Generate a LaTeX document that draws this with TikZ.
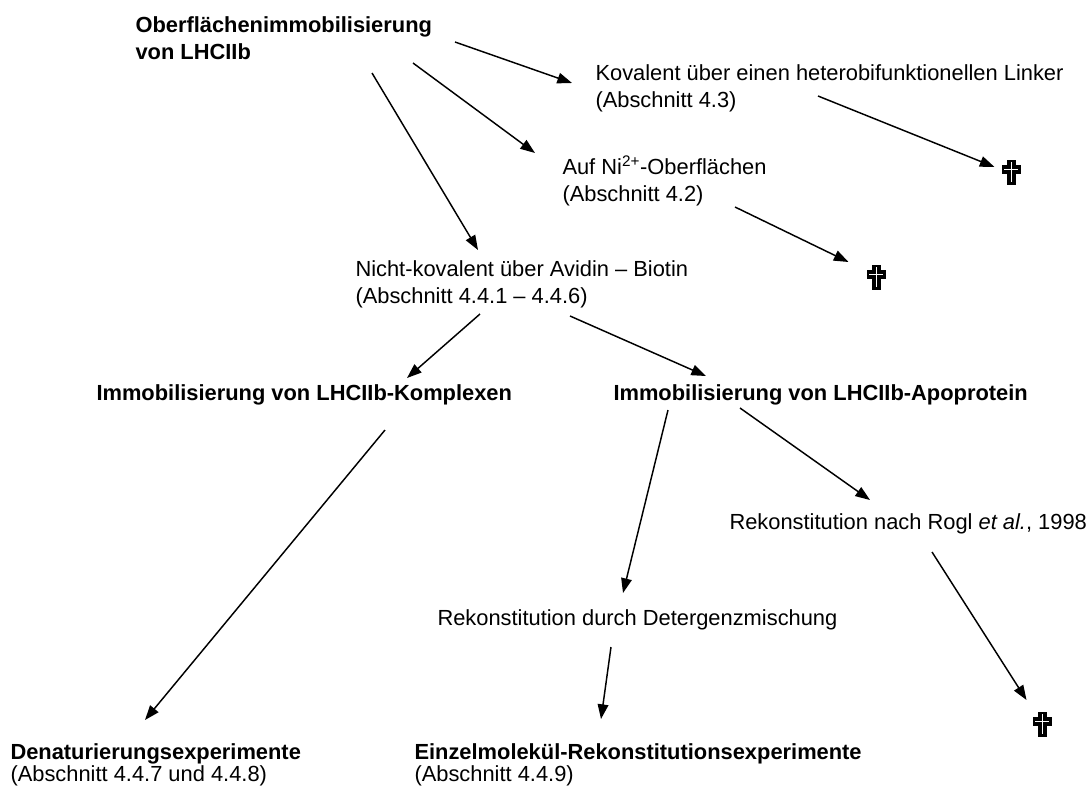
\documentclass[tikz,border=0pt]{standalone}
\usepackage{fontspec}
\setmainfont{Liberation Sans}
\usetikzlibrary{arrows.meta,calc}

\tikzset{every picture/.style={line width=0.75pt}}
\tikzset{
  txt/.style={anchor=west,inner sep=0pt,align=left,font=\fontsize{16.4}{20}\selectfont},
  txtb/.style={txt,font=\fontsize{16.4}{20}\selectfont\bfseries},
  pfeil/.style={-{Triangle[length=11pt,width=8pt]},line width=1.1pt},
  kreuz/.style={inner sep=0pt,minimum width=15pt,minimum height=19pt},
}

\begin{document}
\begin{tikzpicture}[x=0.75pt,y=0.75pt,yscale=-1,xscale=1]
\useasboundingbox (0,0) rectangle (1092,790);

% Text Node
\node[txtb] (ober) at (135,38.5) {Oberflächenimmobilisierung\\von LHCIIb};
% Text Node
\node[txt] (kov) at (595,88.5) {Kovalent über einen heterobifunktionellen Linker\\(Abschnitt 4.3)};
% Text Node
\node[txt] (ni) at (562,180.5) {Auf Ni\textsuperscript{2+}-Oberflächen\\(Abschnitt 4.2)};
% Text Node
\node[txt] (avid) at (355,284) {Nicht-kovalent über Avidin – Biotin\\(Abschnitt 4.4.1 – 4.4.6)};
% Text Node
\node[txtb] (kompl) at (96,395) {Immobilisierung von LHCIIb-Komplexen};
% Text Node
\node[txtb] (apo) at (613,395) {Immobilisierung von LHCIIb-Apoprotein};
% Text Node
\node[txt] (rogl) at (729,524) {Rekonstitution nach Rogl \textit{et al.}, 1998};
% Text Node
\node[txt] (deter) at (437,620) {Rekonstitution durch Detergenzmischung};
% Text Node
\node[txt,font=\fontsize{16.4}{16.5}\selectfont] (denat) at (10,764.5) {\textbf{Denaturierungsexperimente}\\(Abschnitt 4.4.7 und 4.4.8)};
% Text Node
\node[txt,font=\fontsize{16.4}{16.5}\selectfont] (einzel) at (414,764.5) {\textbf{Einzelmolekül-Rekonstitutionsexperimente}\\(Abschnitt 4.4.9)};

% Kreuze
\node[kreuz] (k1) at (1011,172) {};
\node[kreuz] (k2) at (876,277) {};
\node[kreuz] (k3) at (1042,724) {};
\foreach \k in {k1,k2,k3} {
  \fill ($(\k.center)+(-4.5,-12.5)$) rectangle ($(\k.center)+(4.5,12.5)$);
  \fill ($(\k.center)+(-9.5,-7.5)$) rectangle ($(\k.center)+(9.5,1.5)$);
  \draw[white,line width=0.7pt] ($(\k.center)+(0,-10)$) -- ($(\k.center)+(0,10)$)
    ($(\k.center)+(-7,-3)$) -- ($(\k.center)+(7,-3)$);
}

% Pfeile
\draw[pfeil] ($(ober.west)+(320,3.5)$) -- ($(kov.west)+(-23,-5.5)$);
\draw[pfeil] ($(ober.west)+(278,24.5)$) -- ($(ni.west)+(-27,-27.5)$);
\draw[pfeil] ($(ober.west)+(237,34.5)$) -- ($(avid.west)+(123,-34)$);
\draw[pfeil] ($(kov.west)+(223,7.5)$) -- ($(k1.west)+(-6,-5)$);
\draw[pfeil] ($(ni.west)+(173,26.5)$) -- ($(k2.west)+(-17,-15)$);
\draw[pfeil] ($(avid.west)+(125,30)$) -- ($(kompl.west)+(311,-17)$);
\draw[pfeil] ($(avid.west)+(215,32)$) -- ($(apo.west)+(93,-19)$);
\draw[pfeil] ($(kompl.west)+(289,35)$) -- ($(denat.west)+(135,-44.5)$);
\draw[pfeil] ($(apo.west)+(55,15)$) -- ($(deter.west)+(186,-27)$);
\draw[pfeil] ($(apo.west)+(127,13)$) -- ($(rogl.west)+(141,-24)$);
\draw[pfeil] ($(rogl.west)+(203,28)$) -- ($(k3.west)+(-5,-24)$);
\draw[pfeil] ($(deter.west)+(174,27)$) -- ($(einzel.west)+(187,-45.5)$);

\end{tikzpicture}
\end{document}
